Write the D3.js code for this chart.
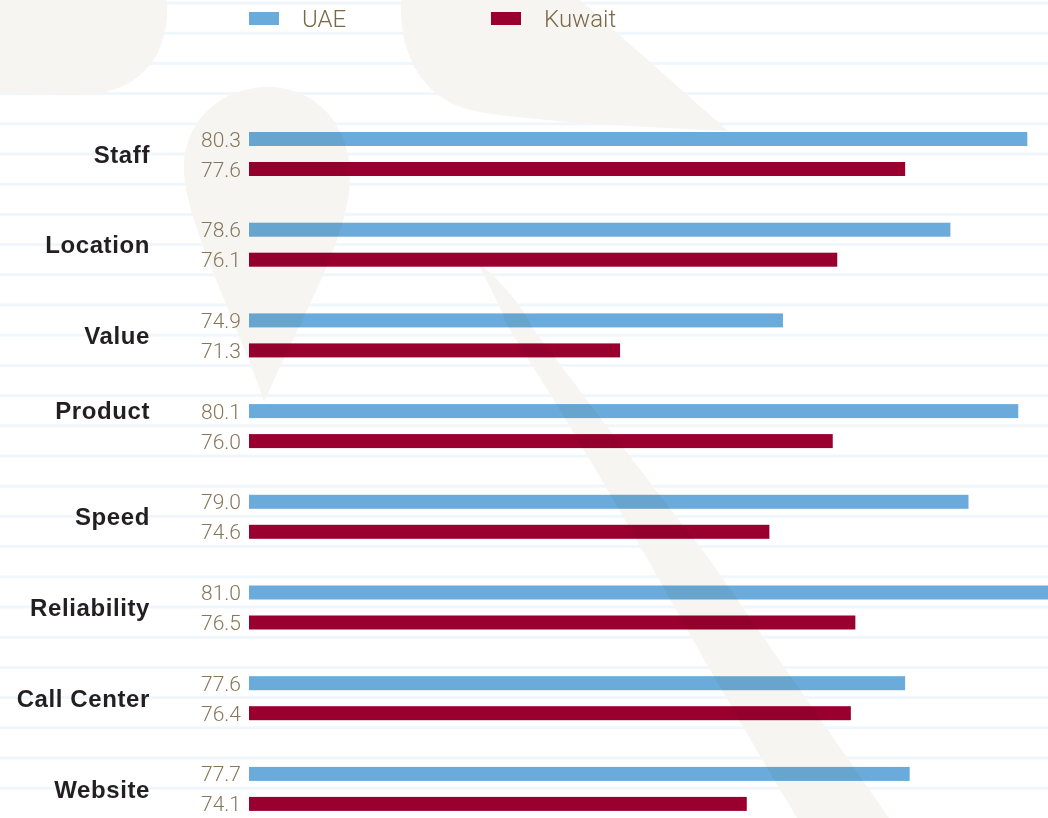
<!DOCTYPE html>
<html>
<head>
<meta charset="utf-8">
<script src="https://cdn.jsdelivr.net/npm/d3@7/dist/d3.min.js"></script>
<style>
  html, body { margin: 0; padding: 0; background: #fff; }
  svg { display: block; }
</style>
</head>
<body>
<div id="chart"></div>
<script>
// satisfaction scores, UAE vs Kuwait

var categories = ["Staff", "Location", "Value", "Product", "Speed", "Reliability", "Call Center", "Website"];
var seriesNames = ["UAE", "Kuwait"];
var uaeValues = [80.3, 78.6, 74.9, 80.1, 79.0, 81.0, 77.6, 77.7];
var kuwaitValues = [77.6, 76.1, 71.3, 76.0, 74.6, 76.5, 76.4, 74.1];

var width = 1048,
	height = 818,
	BAR_LEFT = 249,
	BAR_HEIGHT = 14,
	BAR_STEP = 30,
	ROW_STEP = 90.7,
	SHAPE_COLOR = "#f6f5f1",
	LINE_COLOR = "#f0f7fc",
	COLORS = { UAE: "#6aabdb", Kuwait: "#99002f" };

var rows = categories.map(function(c, i) {
	return { name: c, values: [
		{ series: "UAE", value: uaeValues[i] },
		{ series: "Kuwait", value: kuwaitValues[i] }
	] };
});

var svg = d3.select("#chart").append("svg")
	.attr("width", width)
	.attr("height", height);

// the x axis does not start at zero, the bars begin at about 63
var x = d3.scaleLinear().domain([63.1, 81.0]).range([BAR_LEFT, 1059]);

var yTop = 154 - ROW_STEP / 2;
var y = d3.scaleBand().domain(categories).range([yTop, yTop + ROW_STEP * categories.length]);

var ySub = d3.scaleBand().domain(seriesNames)
	.range([y.bandwidth() / 2 - BAR_STEP, y.bandwidth() / 2 + BAR_STEP])
	.paddingInner((BAR_STEP - BAR_HEIGHT) / BAR_STEP)
	.paddingOuter((BAR_STEP - BAR_HEIGHT) / BAR_STEP / 2);

// faint ruled lines in the background
var lines = svg.append("g").attr("id", "lines");
lines.selectAll("rect")
	.data(d3.range(3, height, 30.2))
	.enter()
	.append("rect")
	.attr("x", 0)
	.attr("y", function(d) { return d - 1.5; })
	.attr("width", width)
	.attr("height", 3)
	.style("fill", LINE_COLOR);

// decorative beige shapes
var shapePaths = [
	"M0,0 L167,0 C170,45 150,82 105,92 C85,96 60,95 0,93 Z",
	"M264,402 C245,340 186,225 184,172 C182,120 222,87 268,87 C318,87 352,128 350,180 C348,240 300,320 264,402 Z",
	"M401,0 L580,0 L728,131 C640,127 520,121 470,110 C418,96 399,50 401,0 Z",
	"M479,266 L483,266 Q520,300 532,327 Q620,445 710,560 Q800,690 889,818 L797,818 Q720,690 648,560 Q580,440 508,327 Q495,295 479,266 Z"
];

var shapes = svg.append("g").attr("id", "shapes");
shapes.selectAll("path")
	.data(shapePaths)
	.enter()
	.append("path")
	.attr("d", function(d) { return d; })
	.style("fill", SHAPE_COLOR);

// the bars
var groups = svg.append("g").attr("id", "bars")
	.selectAll(".row")
	.data(rows)
	.enter()
	.append("g")
	.attr("class", "row")
	.attr("transform", function(d) { return "translate(0," + y(d.name) + ")"; });

groups.selectAll("rect")
	.data(function(d) { return d.values; })
	.enter()
	.append("rect")
	.attr("x", x.range()[0])
	.attr("y", function(d) { return ySub(d.series); })
	.attr("width", function(d) { return x(d.value) - x.range()[0]; })
	.attr("height", ySub.bandwidth())
	.style("fill", function(d) { return COLORS[d.series]; });

// the shapes tint the bars where they cross them
var defs = svg.append("defs");
var clip = defs.append("clipPath").attr("id", "barclip");
rows.forEach(function(r) {
	r.values.forEach(function(v) {
		clip.append("rect")
			.attr("x", x.range()[0])
			.attr("y", y(r.name) + ySub(v.series))
			.attr("width", x(v.value) - x.range()[0])
			.attr("height", ySub.bandwidth());
	});
});

svg.append("g")
	.attr("clip-path", "url(#barclip)")
	.style("mix-blend-mode", "multiply")
	.selectAll("path")
	.data(shapePaths)
	.enter()
	.append("path")
	.attr("d", function(d) { return d; })
	.style("fill", "#f7f5f0");

// value labels to the left of each bar
groups.selectAll(".value")
	.data(function(d) { return d.values; })
	.enter()
	.append("text")
	.attr("class", "value")
	.attr("x", x.range()[0] - 8)
	.attr("y", function(d) { return ySub(d.series) + ySub.bandwidth() / 2; })
	.attr("dy", "0.36em")
	.text(function(d) { return d3.format(".1f")(d.value); })
	.style("font-family", "Roboto, 'Liberation Sans', sans-serif")
	.style("font-weight", 300)
	.style("font-size", "21px")
	.style("fill", "#86765a")
	.style("text-anchor", "end");

// category names
groups.append("text")
	.attr("x", 150)
	.attr("y", function(d) { return y.bandwidth() / 2 - (d.name === "Product" ? 16 : 0); })
	.attr("dy", "0.36em")
	.text(function(d) { return d.name; })
	.style("font-family", "'Liberation Sans', Arial, sans-serif")
	.style("font-weight", "bold")
	.style("font-size", "24px")
	.style("letter-spacing", "0.6px")
	.style("fill", "#231f20")
	.style("text-anchor", "end");

// legend
var legend = svg.append("g").attr("id", "legend")
	.selectAll("g")
	.data(seriesNames)
	.enter()
	.append("g")
	.attr("transform", function(d, i) { return "translate(" + (249 + i * 242) + ",12)"; });

legend.append("rect")
	.attr("width", 30)
	.attr("height", 13)
	.style("fill", function(d) { return COLORS[d]; });

legend.append("text")
	.attr("x", 53)
	.attr("y", 6.5)
	.attr("dy", "0.36em")
	.text(function(d) { return d; })
	.style("font-family", "Roboto, 'Liberation Sans', sans-serif")
	.style("font-weight", 300)
	.style("font-size", "24px")
	.style("fill", "#7a6848");
</script>
</body>
</html>
